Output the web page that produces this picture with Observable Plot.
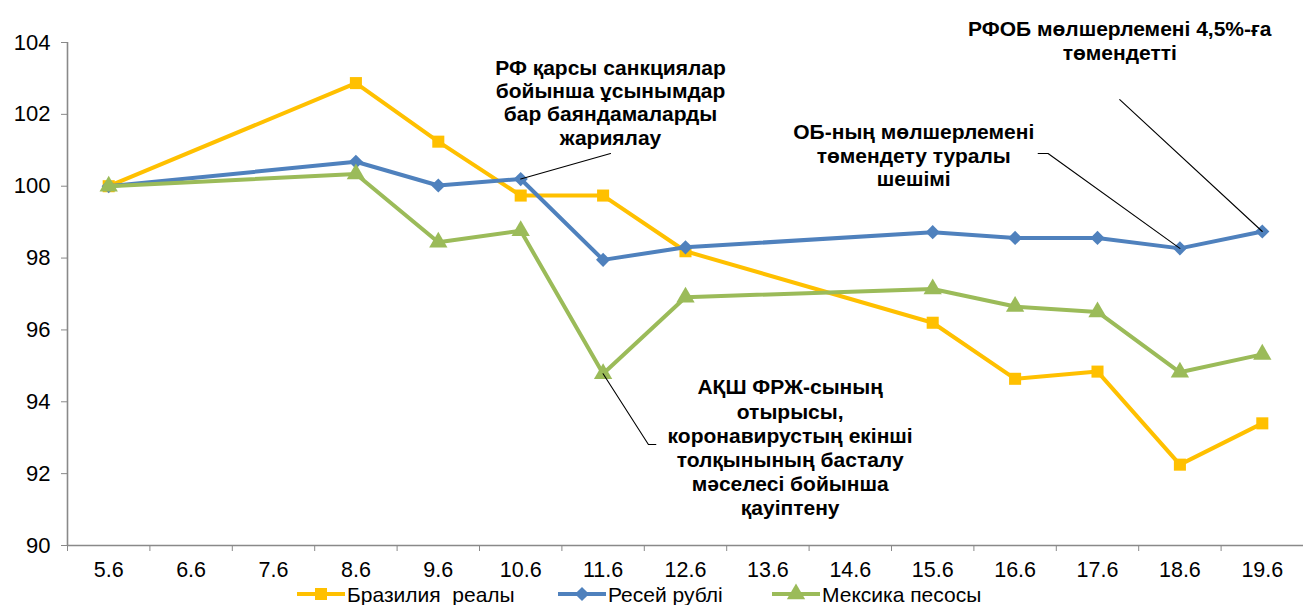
<!DOCTYPE html>
<html>
<head>
<meta charset="utf-8">
<script src="https://cdn.jsdelivr.net/npm/d3@7"></script>
<script src="https://cdn.jsdelivr.net/npm/@observablehq/plot@0.6"></script>
<style>
  html, body { margin: 0; padding: 0; background: #fff; }
  body { width: 1303px; height: 605px; overflow: hidden; font-family: "Liberation Sans", Arial, sans-serif; }
  #legend { position: relative; height: 23px; font-size: 21px; line-height: 21px; color: #000; }
  .item { position: absolute; top: 1px; height: 22px; display: flex; align-items: center; }
  .item svg { display: block; }
  .item span { margin-left: 2px; white-space: pre; }
</style>
</head>
<body>
<div id="chart"></div>
<div id="legend"></div>
<script>
const categories = ["5.6","6.6","7.6","8.6","9.6","10.6","11.6","12.6","13.6","14.6","15.6","16.6","17.6","18.6","19.6"];
const dates = ["5.6","8.6","9.6","10.6","11.6","12.6","15.6","16.6","17.6","18.6","19.6"];
const brazil = [100, 102.87, 101.24, 99.74, 99.74, 98.19, 96.20, 94.64, 94.84, 92.25, 93.40];
const russia = [100, 100.68, 100.02, 100.20, 97.95, 98.30, 98.72, 98.56, 98.56, 98.27, 98.74];
const mexico = [100, 100.34, 98.44, 98.76, 94.78, 96.91, 97.14, 96.65, 96.50, 94.82, 95.32];
const yTicks = [90, 92, 94, 96, 98, 100, 102, 104];
const seriesNames = ["Бразилия  реалы", "Ресей рублі", "Мексика песосы"];
const seriesColors = ["#FFC000", "#4F81BD", "#9BBB59"];
const seriesSymbols = ["square", "diamond2", "triangle"];
const seriesR = [6.8, 6.4, 6.8];
const seriesValues = [brazil, russia, mexico];

// annotations (positions in data units: x = category index, y = value)
const annotations = [
  {x: 6.09, y: 102.33, text: "РФ қарсы санкциялар\nбойынша ұсынымдар\nбар баяндамаларды\nжариялау", lh: 1.1},
  {x: 9.77, y: 100.86, text: "ОБ-ның мөлшерлемені\nтөмендету туралы\nшешімі", lh: 1.12},
  {x: 12.27, y: 104.06, text: "РФОБ мөлшерлемені 4,5%-ға\nтөмендетті", lh: 1.14},
  {x: 8.27, y: 92.74, text: "АҚШ ФРЖ-сының\nотырысы,\nкоронавирустың екінші\nтолқынының басталу\nмәселесі бойынша\nқауіптену", lh: 1.15}
];
const leaders = [
  [[6.09, 100.91], [5, 100.20]],
  [[11.28, 100.91], [11.40, 100.91], [13, 98.27]],
  [[12.27, 102.41], [14, 98.74]],
  [[6, 94.78], [6.55, 92.81], [6.64, 92.81]]
];

const idx = d => categories.indexOf(d);
const series = seriesValues.map((vals, s) =>
  dates.map((d, i) => ({x: idx(d), y: vals[i], s}))
);

const font = '"Liberation Sans", Arial, sans-serif';
const marks = [
  Plot.axisY({ticks: yTicks, tickSize: 6, tickPadding: 11, stroke: "#898989", fill: "#000", fontSize: 22, label: null}),
  Plot.axisX({ticks: d3.range(categories.length), tickFormat: i => categories[i], tickSize: 0, tickPadding: 16, fill: "#000", fontSize: 21.5, label: null}),
  Plot.axisX({ticks: d3.range(categories.length + 1).map(i => i - 0.5), tickFormat: () => "", tickSize: 6, stroke: "#898989", label: null}),
  Plot.ruleX([-0.5], {stroke: "#898989", strokeWidth: 1.6}),
  Plot.ruleY([90], {stroke: "#898989", strokeWidth: 1.6})
];
series.forEach((data, s) => {
  marks.push(Plot.line(data, {x: "x", y: "y", stroke: seriesColors[s], strokeWidth: 4, strokeLinejoin: "round"}));
  marks.push(Plot.dot(data, {x: "x", y: "y", fill: seriesColors[s], stroke: "none", symbol: seriesSymbols[s], r: seriesR[s]}));
});
leaders.forEach(pts => {
  marks.push(Plot.line(pts, {x: d => d[0], y: d => d[1], stroke: "#000", strokeWidth: 1.1}));
});
annotations.forEach(a => {
  marks.push(Plot.text([a], {x: "x", y: "y", text: "text", fontWeight: "bold", fontSize: 21, lineHeight: a.lh, textAnchor: "middle", lineAnchor: "middle", fill: "#000"}));
});

const chart = Plot.plot({
  width: 1303,
  height: 582,
  marginLeft: 67,
  marginRight: 0,
  marginTop: 42,
  marginBottom: 37,
  x: {type: "linear", domain: [-0.5, 14.5]},
  y: {domain: [90, 104]},
  style: {fontFamily: font, fontSize: "22px", background: "#fff", overflow: "visible"},
  marks
});
chart.style.display = "block";
document.getElementById("chart").appendChild(chart);

// legend
const legend = document.getElementById("legend");
const legendLeft = [297, 558, 772];
seriesNames.forEach((name, s) => {
  const item = document.createElement("div");
  item.className = "item";
  item.style.left = legendLeft[s] + "px";
  const w = 48, h = 22;
  const svg = d3.create("svg").attr("width", w).attr("height", h);
  svg.append("line").attr("x1", 0).attr("x2", w).attr("y1", h / 2).attr("y2", h / 2)
    .attr("stroke", seriesColors[s]).attr("stroke-width", 4);
  const symMap = {square: d3.symbolSquare, diamond2: d3.symbolDiamond2, triangle: d3.symbolTriangle};
  svg.append("path").attr("d", d3.symbol(symMap[seriesSymbols[s]], Math.PI * seriesR[s] * seriesR[s])())
    .attr("transform", `translate(${w / 2},${h / 2})`).attr("fill", seriesColors[s]);
  item.appendChild(svg.node());
  const span = document.createElement("span");
  span.textContent = name;
  item.appendChild(span);
  legend.appendChild(item);
});
</script>
</body>
</html>
